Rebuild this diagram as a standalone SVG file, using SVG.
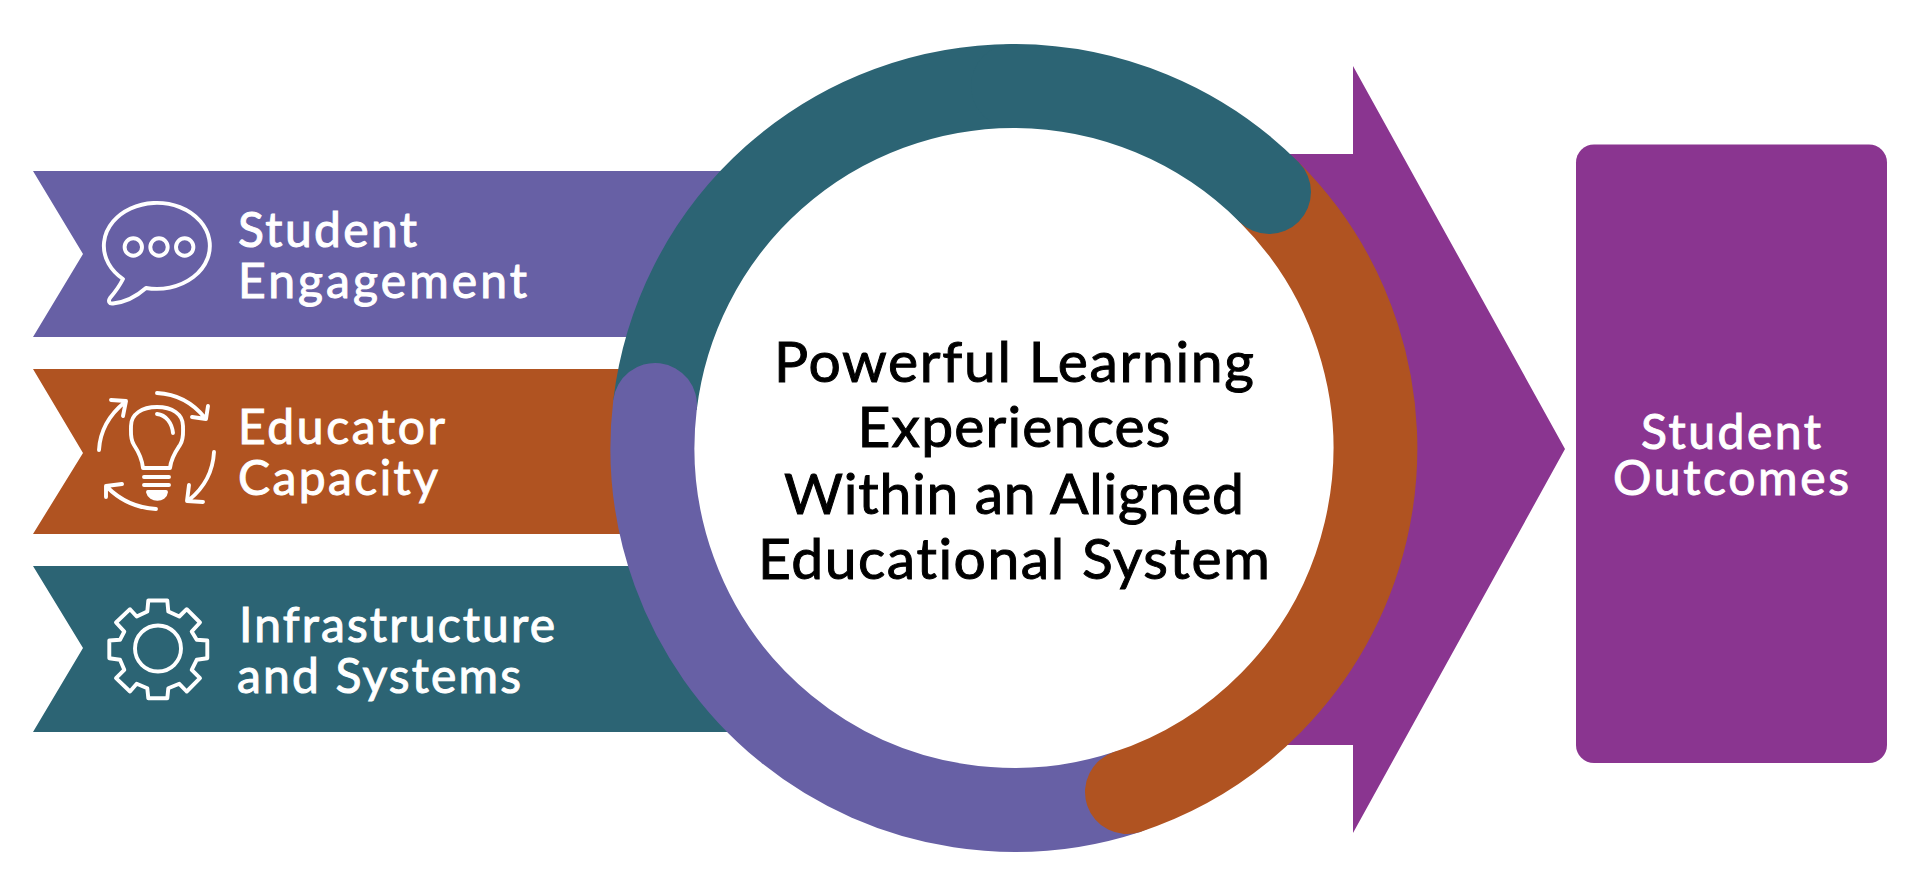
<svg xmlns="http://www.w3.org/2000/svg" width="1920" height="891" viewBox="0 0 1920 891">
<style>
text{font-family:"Lato","Noto Sans",sans-serif;font-weight:400;stroke-width:1;font-variant-ligatures:none}
.l{fill:#fff;stroke:#fff;font-size:48px}
.c{fill:#000;stroke:#000;font-size:57px;text-anchor:middle}
.o{fill:#fff;stroke:#fff;font-size:48px;text-anchor:middle}
.i{fill:none;stroke:#fff;stroke-width:3.9;stroke-linecap:round;stroke-linejoin:round}
.r{fill:none;stroke-width:84}
</style>
<rect width="1920" height="891" fill="#fff"/>
<g id="student-engagement">
<polygon points="33,171 1000,171 1000,337 33,337 83,254" fill="#6760a5"/>
<g class="i">
<path d="M123,279A53,43 0 1 1 146,288C137,296 127,302 113,303.500C109,304 108,301 110,298C116,291 120,285 123,279Z"/>
<circle cx="133.300" cy="247" r="8.700"/><circle cx="159" cy="247" r="8.700"/><circle cx="184.700" cy="247" r="8.700"/>
</g>
<text class="l" x="238" y="247" textLength="179">Student</text>
<text class="l" x="238" y="298" textLength="289">Engagement</text>
</g>
<g id="educator-capacity">
<polygon points="33,369 1000,369 1000,534 33,534 83,453" fill="#b05321"/>
<g class="i">
<path d="M143,468C142,458 138,451 134,445C130,439 131,433 131,426C131,414 142,407 157,407C172,407 183,414 183,426C183,433 184,439 180,445C176,451 171,458 170,468Z"/>
<path d="M157,414C166,415 172,423 173,433"/>
<path d="M144,477H169M144,485H169"/>
<path d="M148,492H166C165,501 150,501 148,492Z" fill="#fff"/>
<path d="M99,450C100,431 109,415 125,402M111,400L126,401L123,416"/>
<path d="M157,393C177,394 193,403 205,418M208,406L206,419L192,417"/>
<path d="M214,452C213,471 205,487 189,500M189,485L187,501L203,502"/>
<path d="M156,509C137,508 120,500 107,487M122,484L106,486L106,497"/>
</g>
<text class="l" x="238" y="444" textLength="207">Educator</text>
<text class="l" x="238" y="495" textLength="200">Capacity</text>
</g>
<g id="infrastructure-systems">
<polygon points="33,566 1000,566 1000,732 33,732 83,648" fill="#2c6474"/>
<g class="i" transform="translate(0,1.500)">
<path d="M148.300,599H167.300L168.300,610L179.300,615L186.700,607.700L200,621L191.700,630L196.700,638.300L207.300,639V656.700L196.700,658.300L191.700,668.300L200,676.700L186.700,690L179.300,682.300L168.300,686.700L167.300,696.700H148.300L147.300,686.700L136.700,682.300L130,690L116,676.700L124.300,668.300L120,658.300L109.300,656.700V639L120,638.300L124.300,630L116,621L130,607.700L136.700,615L147.300,610Z"/>
<circle cx="158" cy="647" r="23"/>
</g>
<text class="l" x="239" y="642" textLength="316">Infrastructure</text>
<text class="l" x="237" y="693" textLength="284">and Systems</text>
</g>
<g id="outcome-arrow">
<polygon points="1200,154 1353,154 1353,66 1565,449 1353,833 1353,745 1200,745" fill="#8a3590"/>
</g>
<g id="student-outcomes">
<rect x="1576" y="144.500" width="311" height="618.500" rx="18" fill="#8a3590"/>
<text class="o" x="1731" y="449" textLength="180">Student</text>
<text class="o" x="1731" y="495" textLength="236">Outcomes</text>
</g>
<g id="ring">
<circle cx="1013" cy="448" r="330" fill="#fff"/>
<path class="r" stroke="#2c6474" d="M655,405A362,362 0 0 1 1013,86"/>
<path class="r" stroke="#6760a5" stroke-linecap="round" d="M655,405A362,362 0 0 0 1127,792"/>
<path class="r" stroke="#b05321" stroke-linecap="round" d="M1127,792A362,362 0 0 0 1269,192"/>
<path class="r" stroke="#2c6474" stroke-linecap="round" d="M1013,86A362,362 0 0 1 1269,192"/>
</g>
<g id="center-label">
<text class="c" x="1014" y="382" textLength="480">Powerful Learning</text>
<text class="c" x="1014" y="447" textLength="313">Experiences</text>
<text class="c" x="1014" y="514" textLength="460">Within an Aligned</text>
<text class="c" x="1014" y="579" textLength="512">Educational System</text>
</g>
</svg>
